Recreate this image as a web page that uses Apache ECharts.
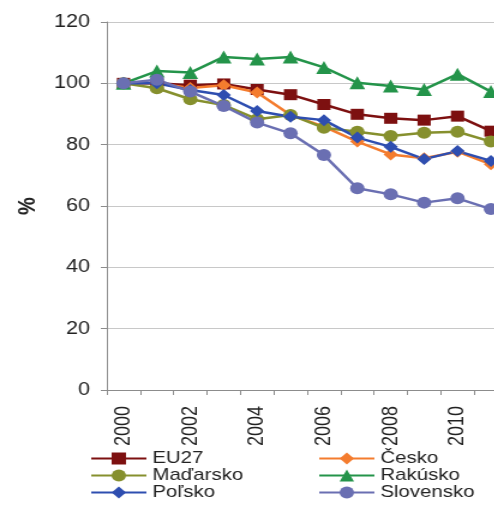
<!DOCTYPE html>
<html><head><meta charset="utf-8">
<script src="https://cdn.jsdelivr.net/npm/echarts@6/dist/echarts.min.js"></script>
<style>
html,body{margin:0;padding:0;background:#fff;overflow:hidden;width:494px;height:524px}
#c{width:423px;height:524px;transform:scaleX(1.2);transform-origin:0 0}
</style>
</head><body><div id="c"></div>
<script>
const years = ['2000','2001','2002','2003','2004','2005','2006','2007','2008','2009','2010','2011'];
const yTicks = [0,20,40,60,80,100,120];
const eu27 = [100,100,99.4,99.8,98,96.3,93.1,89.9,88.6,88,89.3,84.4];
const cesko = [100,100,98.5,99.4,97,89.7,85.9,81,76.8,75.6,77.7,73.6];
const madarsko = [100,98.4,94.8,92.9,88.3,89.7,85.5,84.2,82.8,83.9,84.2,81];
const rakusko = [100,104,103.5,108.6,107.9,108.6,105.2,100.2,99.1,98,103,97.3];
const polsko = [100,100,97.8,96.2,91,89.1,88,82.3,79.3,75.3,77.9,74.7];
const slovensko = [100,101.2,97.3,92.6,87.2,83.7,76.6,65.8,63.8,61.1,62.5,59];

const mk = (name, data, color, symbol, size) => ({
  name, type: 'line', data, symbol, symbolSize: size,
  lineStyle: {color, width: 2.5}, itemStyle: {color},
  emphasis: {disabled: true}, animation: false
});
const series = [
  mk('EU27', eu27, '#7d1010', 'rect', 11),
  mk('Česko', cesko, '#f47c2e', 'diamond', 12),
  mk('Maďarsko', madarsko, '#86902e', 'circle', 12),
  mk('Rakúsko', rakusko, '#24944a', 'triangle', 13),
  mk('Poľsko', polsko, '#2e4eb0', 'diamond', 12),
  mk('Slovensko', slovensko, '#6a6fb2', 'circle', 12)
];
const chart = echarts.init(document.getElementById('c'), null, {renderer: 'canvas'});
const legendCommon = {orient: 'vertical', top: 450, padding: 0, itemGap: 0, itemWidth: 46, itemHeight: 15,
  textStyle: {fontSize: 17, lineHeight: 15.5, color: '#222', fontFamily: 'Liberation Sans'}};
chart.setOption({
  animation: false,
  textStyle: {fontFamily: 'Liberation Sans'},
  grid: {left: 89, top: 22, bottom: 134, right: 0, containLabel: false},
  legend: [
    Object.assign({left: 75, data: ['EU27','Maďarsko','Poľsko']}, legendCommon),
    Object.assign({left: 265, data: ['Česko','Rakúsko','Slovensko']}, legendCommon)
  ],
  xAxis: {
    type: 'category', data: years, boundaryGap: true,
    axisLine: {lineStyle: {color: '#8c8c8c', width: 1}},
    axisTick: {show: true, interval: 0, length: 5, lineStyle: {color: '#8c8c8c'}},
    axisLabel: {rotate: 90, interval: 1, fontSize: 18, color: '#222', margin: 16}
  },
  yAxis: {
    type: 'value', min: yTicks[0], max: yTicks[yTicks.length-1], interval: 20,
    name: '%', nameLocation: 'middle', nameGap: 56, nameRotate: 90,
    nameTextStyle: {fontSize: 20, fontWeight: 'bold', color: '#222'},
    axisLine: {show: true, lineStyle: {color: '#8c8c8c', width: 1}},
    axisTick: {show: true, length: 5, lineStyle: {color: '#8c8c8c'}},
    axisLabel: {fontSize: 18, color: '#222', margin: 14},
    splitLine: {show: true, lineStyle: {color: '#c8c8c8', width: 1}}
  },
  series
});
</script></body></html>
